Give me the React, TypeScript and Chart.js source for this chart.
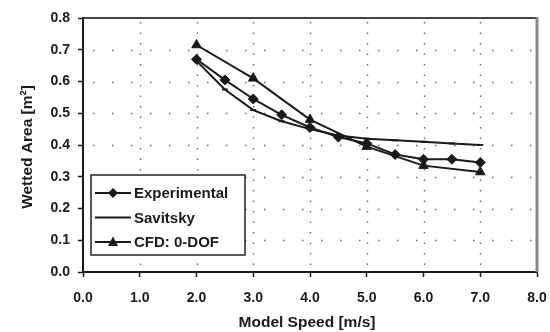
import React, { useEffect, useRef } from "react";
import { Chart, registerables } from "chart.js";

Chart.register(...registerables);

// Model speed [m/s] and wetted area [m²] per series
const expSpeed = [2.0, 2.5, 3.0, 3.5, 4.0, 4.5, 5.0, 5.5, 6.0, 6.5, 7.0];
const expArea = [0.67, 0.605, 0.545, 0.495, 0.455, 0.425, 0.405, 0.37, 0.355, 0.355, 0.345];

const savSpeed = [2.0, 2.5, 3.0, 3.5, 4.0, 4.5, 5.0, 5.5, 6.0, 6.5, 7.0];
const savArea = [0.665, 0.575, 0.51, 0.475, 0.45, 0.43, 0.42, 0.415, 0.41, 0.405, 0.4];

const cfdSpeed = [2.0, 3.0, 4.0, 5.0, 6.0, 7.0];
const cfdArea = [0.715, 0.61, 0.48, 0.395, 0.335, 0.315];

const seriesLabels = ["Experimental", "Savitsky", "CFD: 0-DOF"];

const xTitle = "Model Speed [m/s]";
const yTitle = "Wetted Area [m²]";

const FONT = "'Liberation Sans', Arial, sans-serif";
const INK = "#1a1a1a";

const pairs = (xs: number[], ys: number[]) => xs.map((x, i) => ({ x, y: ys[i] }));

// Dotted grid, frame, axis titles and an in-plot legend
const decorations = {
  id: "decorations",
  beforeDatasetsDraw(chart: any) {
    const { ctx, chartArea: a, scales } = chart;
    ctx.save();
    ctx.strokeStyle = "#666";
    ctx.lineWidth = 1.4;
    // horizontal dotted lines
    ctx.setLineDash([1.5, 17.5]);
    scales.y.ticks.forEach((t: any) => {
      if (t.value <= 0 || t.value >= 0.8) return;
      const y = Math.round(scales.y.getPixelForValue(t.value)) + 0.5;
      ctx.beginPath();
      ctx.moveTo(a.left + 10, y);
      ctx.lineTo(a.right, y);
      ctx.stroke();
    });
    // vertical dotted lines
    ctx.setLineDash([1.5, 9]);
    scales.x.ticks.forEach((t: any) => {
      if (t.value <= 0 || t.value >= 8) return;
      const x = Math.round(scales.x.getPixelForValue(t.value)) + 0.5;
      ctx.beginPath();
      ctx.moveTo(x, a.top + 4);
      ctx.lineTo(x, a.bottom);
      ctx.stroke();
    });
    ctx.setLineDash([]);
    // top and right frame
    ctx.strokeStyle = "#444";
    ctx.lineWidth = 2;
    ctx.beginPath();
    ctx.moveTo(a.left, a.top);
    ctx.lineTo(a.right, a.top);
    ctx.stroke();
    ctx.strokeStyle = "#888";
    ctx.lineWidth = 3;
    ctx.beginPath();
    ctx.moveTo(a.right, a.top - 1);
    ctx.lineTo(a.right, a.bottom);
    ctx.stroke();
    ctx.restore();
  },
  afterDraw(chart: any) {
    const { ctx, chartArea: a } = chart;
    ctx.save();
    ctx.fillStyle = INK;
    ctx.font = `bold 15.5px ${FONT}`;
    ctx.textAlign = "center";
    ctx.textBaseline = "middle";
    ctx.fillText(xTitle, 307, 323);
    ctx.translate(28, 147);
    ctx.rotate(-Math.PI / 2);
    ctx.fillText(yTitle, 0, 0);
    ctx.restore();

    // legend box
    const bx = a.left + 8;
    const by = a.top + 157;
    const bw = 154;
    const bh = 80;
    ctx.save();
    ctx.fillStyle = "#fff";
    ctx.fillRect(bx, by, bw, bh);
    ctx.strokeStyle = "#222";
    ctx.lineWidth = 1.5;
    ctx.strokeRect(bx, by, bw, bh);
    chart.data.datasets.forEach((ds: any, i: number) => {
      const y = by + 18 + i * 24.5;
      const x0 = bx + 4;
      const x1 = bx + 40;
      ctx.strokeStyle = ds.borderColor;
      ctx.lineWidth = ds.borderWidth;
      ctx.beginPath();
      ctx.moveTo(x0, y);
      ctx.lineTo(x1, y);
      ctx.stroke();
      const cx = (x0 + x1) / 2;
      ctx.fillStyle = INK;
      if (ds.pointStyle === "rectRot") {
        ctx.beginPath();
        ctx.moveTo(cx, y - 5);
        ctx.lineTo(cx + 5, y);
        ctx.lineTo(cx, y + 5);
        ctx.lineTo(cx - 5, y);
        ctx.closePath();
        ctx.fill();
      } else if (ds.pointStyle === "triangle") {
        ctx.beginPath();
        ctx.moveTo(cx, y - 5.5);
        ctx.lineTo(cx + 5, y + 4);
        ctx.lineTo(cx - 5, y + 4);
        ctx.closePath();
        ctx.fill();
      }
      ctx.fillStyle = INK;
      ctx.font = `bold 15px ${FONT}`;
      ctx.textAlign = "left";
      ctx.textBaseline = "middle";
      ctx.fillText(ds.label, x1 + 3, y + 1);
    });
    ctx.restore();
  },
};

export default function App() {
  const canvasRef = useRef<HTMLCanvasElement | null>(null);

  useEffect(() => {
    const canvas = canvasRef.current;
    if (!canvas) return;
    const tickFont = { family: FONT, size: 14, weight: "bold" as const };
    const chart = new Chart(canvas, {
      type: "line",
      data: {
        datasets: [
          {
            label: seriesLabels[0],
            data: pairs(expSpeed, expArea),
            borderColor: INK,
            backgroundColor: INK,
            borderWidth: 2,
            pointStyle: "rectRot",
            pointRadius: 5,
            pointBorderWidth: 1,
            tension: 0,
          },
          {
            label: seriesLabels[1],
            data: pairs(savSpeed, savArea),
            borderColor: INK,
            backgroundColor: INK,
            borderWidth: 2,
            pointStyle: "line",
            pointRadius: 3,
            pointBorderWidth: 2,
            tension: 0,
          },
          {
            label: seriesLabels[2],
            data: pairs(cfdSpeed, cfdArea),
            borderColor: INK,
            backgroundColor: INK,
            borderWidth: 2,
            pointStyle: "triangle",
            pointRadius: 5.5,
            pointBorderWidth: 1,
            tension: 0,
          },
        ],
      },
      options: {
        animation: false,
        responsive: false,
        parsing: true,
        layout: { padding: { top: 18, right: 13, left: 0, bottom: 0 } },
        plugins: {
          legend: { display: false },
          tooltip: { enabled: false },
        },
        scales: {
          x: {
            type: "linear",
            min: 0,
            max: 8,
            ticks: {
              stepSize: 1,
              color: INK,
              font: tickFont,
              padding: 13,
              maxRotation: 0,
              callback: (v: any) => Number(v).toFixed(1),
            },
            grid: {
              drawOnChartArea: false,
              color: INK,
              tickColor: INK,
              tickLength: 5,
              tickWidth: 1.5,
            },
            border: { display: true, color: INK, width: 2 },
            afterFit: (s: any) => {
              s.height = 60;
              s.paddingLeft = 0;
              s.paddingRight = 0;
            },
          },
          y: {
            type: "linear",
            min: 0,
            max: 0.8,
            ticks: {
              stepSize: 0.1,
              color: INK,
              font: tickFont,
              padding: 8,
              callback: (v: any) => Number(v).toFixed(1),
            },
            grid: {
              drawOnChartArea: false,
              color: INK,
              tickColor: INK,
              tickLength: 5,
              tickWidth: 1.5,
            },
            border: { display: true, color: INK, width: 2 },
            afterFit: (s: any) => {
              s.width = 83;
              s.paddingTop = 0;
              s.paddingBottom = 0;
            },
          },
        },
      },
      plugins: [decorations],
    });
    return () => chart.destroy();
  }, []);

  return (
    <div style={{ position: "fixed", left: 0, top: 0, width: 550, height: 332, background: "#fff" }}>
      <canvas ref={canvasRef} width={550} height={332} style={{ width: 550, height: 332 }} />
    </div>
  );
}
